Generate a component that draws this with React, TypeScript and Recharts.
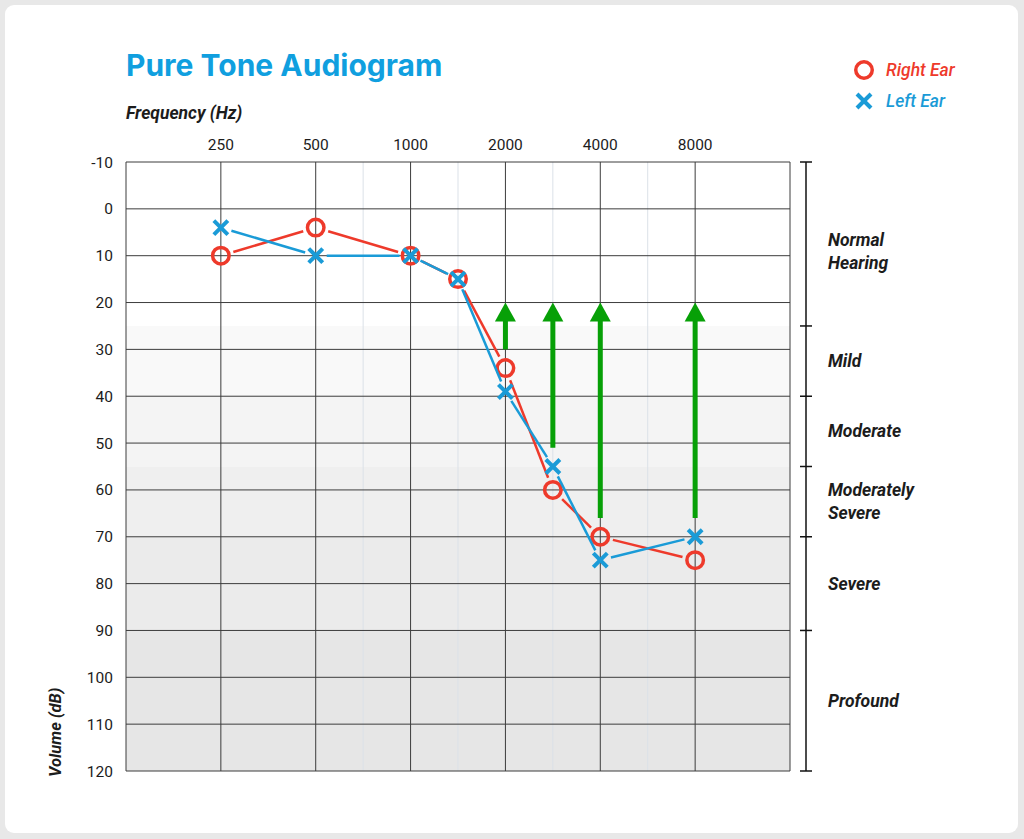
import React from 'react';
import {
  LineChart,
  Line,
  XAxis,
  YAxis,
  CartesianGrid,
  ReferenceArea,
  ReferenceLine,
  Legend,
} from 'recharts';

// ---------- data ----------
const frequencies = ['250', '500', '1000', '1500', '2000', '3000', '4000', '8000'];
const freqPositions = [0, 1, 2, 2.5, 3, 3.5, 4, 5];
const rightEar = [10, 4, 10, 15, 34, 60, 70, 75];
const leftEar = [4, 10, 10, 15, 39, 55, 75, 70];

const xTickPositions = [-1, 0, 1, 2, 3, 4, 5, 6];
const xTickLabels = ['', '250', '500', '1000', '2000', '4000', '8000', ''];
const halfOctavePositions = [1.5, 2.5, 3.5, 4.5];

const dbTicks = [-10, 0, 10, 20, 30, 40, 50, 60, 70, 80, 90, 100, 110, 120];

const bandBounds = [-10, 25, 40, 55, 70, 90, 120];
const bandFills = ['#ffffff', '#f9f9f9', '#f4f4f4', '#efefef', '#ebebeb', '#e6e6e6'];
const bandLabelAt = [9, 32.5, 47.5, 62.5, 80, 105];
const bandNames = [['Normal', 'Hearing'], ['Mild'], ['Moderate'], ['Moderately', 'Severe'], ['Severe'], ['Profound']];

const arrowPositions = [3, 3.5, 4, 5];
const arrowFrom = [30, 51, 66, 66];
const arrowTo = 20;

const RED = '#ee3a2b';
const BLUE = '#1a9bd7';
const GREEN = '#07a007';

const data = frequencies.map((f, i) => ({
  freq: f,
  pos: freqPositions[i],
  right: rightEar[i],
  left: leftEar[i],
}));

// ---------- markers ----------
const OMark = ({ cx, cy }: { cx: number; cy: number }) => (
  <circle cx={cx} cy={cy} r={8.25} fill="none" stroke={RED} strokeWidth={3.5} />
);
const XMark = ({ cx, cy }: { cx: number; cy: number }) => (
  <g stroke={BLUE} strokeWidth={4}>
    <line x1={cx - 7} y1={cy - 7} x2={cx + 7} y2={cy + 7} />
    <line x1={cx - 7} y1={cy + 7} x2={cx + 7} y2={cy - 7} />
  </g>
);

const makeDot = (kind: 'o' | 'x', color: string) => (props: any) => {
  const { cx, cy, index, points } = props;
  const gap = kind === 'o' ? 13 : 11;
  let seg: React.ReactNode = null;
  const next = points && points[index + 1];
  if (next && cx != null && cy != null) {
    const dx = next.x - cx;
    const dy = next.y - cy;
    const len = Math.hypot(dx, dy);
    if (len > gap * 2) {
      seg = (
        <line
          x1={cx + (dx / len) * gap}
          y1={cy + (dy / len) * gap}
          x2={next.x - (dx / len) * gap}
          y2={next.y - (dy / len) * gap}
          stroke={color}
          strokeWidth={2.5}
        />
      );
    }
  }
  return (
    <g key={`${kind}-${index}`}>
      {seg}
      {kind === 'o' ? <OMark cx={cx} cy={cy} /> : <XMark cx={cx} cy={cy} />}
    </g>
  );
};

// ---------- arrows ----------
const ArrowShape = (props: any) => {
  const { x1, y1, x2, y2 } = props;
  const x = x1;
  const base = Math.max(y1, y2);
  const tip = Math.min(y1, y2);
  return (
    <g>
      <line x1={x} y1={base} x2={x2} y2={tip + 16} stroke={GREEN} strokeWidth={5} />
      <polygon points={`${x},${tip} ${x - 10.5},${tip + 19} ${x + 10.5},${tip + 19}`} fill={GREEN} />
    </g>
  );
};

// ---------- right side ticks ----------
const BracketTick = (props: any) => {
  const { x, y } = props;
  return <line x1={x - 6} y1={y} x2={x + 6} y2={y} stroke="#111" strokeWidth={1.5} />;
};

const BandLabelTick = (props: any) => {
  const { x, y, payload } = props;
  const idx = bandLabelAt.indexOf(payload.value);
  const lines = bandNames[idx] || [];
  const n = lines.length;
  return (
    <text
      x={x}
      fontSize={17.5}
      fontWeight={700}
      fontStyle="italic"
      fill="#1c1c1c"
      dominantBaseline="central"
    >
      {lines.map((l, i) => (
        <tspan key={l} x={x} y={y + (i - (n - 1) / 2) * 23}>
          {l}
        </tspan>
      ))}
    </text>
  );
};

// ---------- legend ----------
const legendItems = [
  { name: 'Right Ear', color: RED, kind: 'o' as const },
  { name: 'Left Ear', color: BLUE, kind: 'x' as const },
];

const renderLegend = () => (
  <div>
    {legendItems.map((it, i) => (
      <div
        key={it.name}
        style={{ display: 'flex', alignItems: 'center', height: 24, marginBottom: i === 0 ? 7 : 0 }}
      >
        <svg width={24} height={24}>
          {it.kind === 'o' ? <OMark cx={12} cy={12} /> : <XMark cx={12} cy={12} />}
        </svg>
        <span
          style={{
            marginLeft: 10,
            color: it.color,
            fontStyle: 'italic',
            fontWeight: 500,
            fontSize: 17.5,
            fontFamily: 'Roboto',
          }}
        >
          {it.name}
        </span>
      </div>
    ))}
  </div>
);

const sideAxisProps = {
  orientation: 'right' as const,
  type: 'number' as const,
  domain: [-10, 120],
  reversed: true,
  allowDataOverflow: true,
};

export default function App() {
  return (
    <div
      style={{
        position: 'absolute',
        left: 0,
        top: 0,
        width: 1024,
        height: 839,
        background: '#e8e8e8',
        fontFamily: 'Roboto, sans-serif',
      }}
    >
      <div
        style={{
          position: 'absolute',
          left: 5,
          top: 5,
          width: 1013,
          height: 828,
          background: '#ffffff',
          borderRadius: 9,
        }}
      />
      <div
        style={{
          position: 'absolute',
          left: 126,
          top: 50,
          fontFamily: 'Inter, sans-serif',
          fontWeight: 700,
          fontSize: 30,
          lineHeight: '30px',
          color: '#109fdf',
          whiteSpace: 'nowrap',
        }}
      >
        Pure Tone Audiogram
      </div>
      <div style={{ position: 'absolute', left: 0, top: 0 }}>
        <LineChart width={1024} height={839} data={data} margin={{ top: 0, right: 0, bottom: 68, left: 0 }}>
          {bandFills.map((fill, i) => (
            <ReferenceArea
              key={`band-${i}`}
              y1={bandBounds[i]}
              y2={bandBounds[i + 1]}
              fill={fill}
              fillOpacity={1}
              stroke="none"
              zIndex={-300}
            />
          ))}
          {halfOctavePositions.map((p) => (
            <ReferenceLine key={`half-${p}`} x={p} stroke="#dbe1e8" strokeWidth={1} zIndex={-250} />
          ))}
          <CartesianGrid stroke="#3c3c3c" strokeWidth={1} />
          <XAxis
            dataKey="pos"
            type="number"
            orientation="top"
            domain={[-1, 6]}
            ticks={xTickPositions}
            tickFormatter={(v: number) => xTickLabels[xTickPositions.indexOf(v)] ?? ''}
            interval={0}
            height={162}
            axisLine={false}
            tickLine={false}
            tickSize={0}
            tickMargin={12}
            tick={{ fontSize: 15.5, fill: '#1c1c1c' }}
            label={{
              content: (p: any) => (
                <text
                  x={p.viewBox.x}
                  y={p.viewBox.y + p.viewBox.height - 43}
                  fontSize={17.5}
                  fontWeight={700}
                  fontStyle="italic"
                  fill="#1c1c1c"
                >
                  Frequency (Hz)
                </text>
              ),
            }}
          />
          <YAxis
            type="number"
            domain={[-10, 120]}
            reversed
            allowDataOverflow
            ticks={dbTicks}
            interval={0}
            width={126}
            axisLine={false}
            tickLine={false}
            tickSize={0}
            tickMargin={13}
            tick={{ fontSize: 15.5, fill: '#1c1c1c' }}
            label={{
              content: (p: any) => {
                const x = p.viewBox.x + 61;
                const y = p.viewBox.y + p.viewBox.height + 6;
                return (
                  <text
                    x={x}
                    y={y}
                    transform={`rotate(-90, ${x}, ${y})`}
                    fontSize={16.5}
                    fontWeight={700}
                    fontStyle="italic"
                    fill="#1c1c1c"
                  >
                    Volume (dB)
                  </text>
                );
              },
            }}
          />
          <YAxis yAxisId="a_gap" {...sideAxisProps} width={16} axisLine={false} tickLine={false} tick={false} />
          <YAxis
            yAxisId="b_bracket"
            {...sideAxisProps}
            ticks={bandBounds}
            interval={0}
            width={22}
            axisLine={{ stroke: '#111', strokeWidth: 1.5 }}
            tickLine={false}
            tickSize={0}
            tickMargin={0}
            tick={<BracketTick />}
          />
          <YAxis
            yAxisId="c_labels"
            {...sideAxisProps}
            ticks={bandLabelAt}
            interval={0}
            width={196}
            axisLine={false}
            tickLine={false}
            tickSize={0}
            tickMargin={0}
            tick={<BandLabelTick />}
          />
          {arrowPositions.map((p, i) => (
            <ReferenceLine
              key={`arrow-${p}`}
              segment={[
                { x: p, y: arrowFrom[i] },
                { x: p, y: arrowTo },
              ]}
              shape={ArrowShape}
            />
          ))}
          <Line
            yAxisId="a_gap"
            dataKey="right"
            stroke="none"
            isAnimationActive={false}
            dot={false}
            activeDot={false}
            legendType="none"
          />
          <Line
            yAxisId="b_bracket"
            dataKey="right"
            stroke="none"
            isAnimationActive={false}
            dot={false}
            activeDot={false}
            legendType="none"
          />
          <Line
            yAxisId="c_labels"
            dataKey="right"
            stroke="none"
            isAnimationActive={false}
            dot={false}
            activeDot={false}
            legendType="none"
          />
          <Line
            dataKey="right"
            stroke="none"
            isAnimationActive={false}
            dot={makeDot('o', RED)}
            activeDot={false}
          />
          <Line
            dataKey="left"
            stroke="none"
            isAnimationActive={false}
            dot={makeDot('x', BLUE)}
            activeDot={false}
          />
          <Legend
            layout="horizontal"
            verticalAlign="middle"
            align="center"
            content={renderLegend}
            wrapperStyle={{ position: 'absolute', left: 852, top: 58, width: 170, height: 55 }}
          />
        </LineChart>
      </div>
    </div>
  );
}
